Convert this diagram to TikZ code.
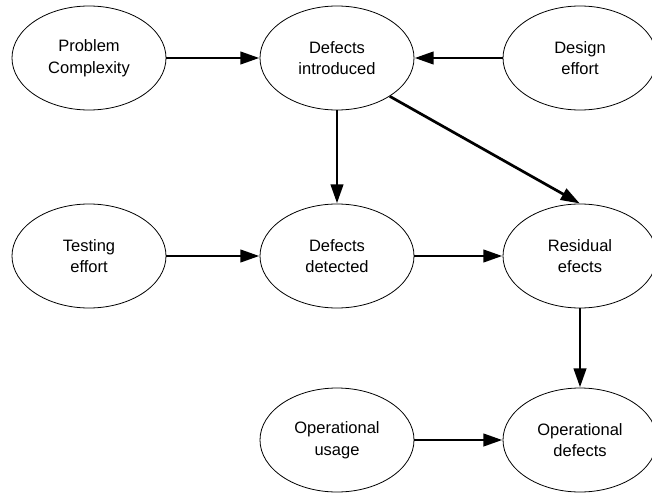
\documentclass[tikz,border=0pt]{standalone}
\usepackage{fontspec}
\setmainfont{Liberation Sans}
\usetikzlibrary{shapes.geometric,arrows.meta}
\begin{document}
\begin{tikzpicture}[x=1pt,y=-1pt,
  bubble/.style={ellipse,draw,line width=0.8pt,minimum width=154pt,minimum height=104pt,inner sep=0pt,align=center,font=\fontsize{16.5}{21.5}\selectfont},
  link/.style={line width=2.7pt,-{Triangle[length=19pt,width=12.5pt]},shorten >=0.3pt}]
\useasboundingbox (0,0) rectangle (652,492);
\node[bubble] (pc) at (89,58) {Problem\\Complexity};
\node[bubble] (di) at (337,58) {Defects\\introduced};
\node[bubble] (de) at (580,58) {Design\\effort};
\node[bubble] (te) at (89,256) {Testing\\effort};
\node[bubble] (dd) at (337,256) {Defects\\detected};
\node[bubble] (re) at (580,256) {Residual\\efects};
\node[bubble] (ou) at (337,440) {Operational\\usage};
\node[bubble] (od) at (580,440) {Operational\\defects};
\draw[link] (pc) -- (di);
\draw[link] (de) -- (di);
\draw[link] (di) -- (dd);
\draw[link] (di.-36) -- (re.north);
\draw[link] (te) -- (dd);
\draw[link] (dd) -- (re);
\draw[link] (re) -- (od);
\draw[link] (ou) -- (od);
\end{tikzpicture}
\end{document}
